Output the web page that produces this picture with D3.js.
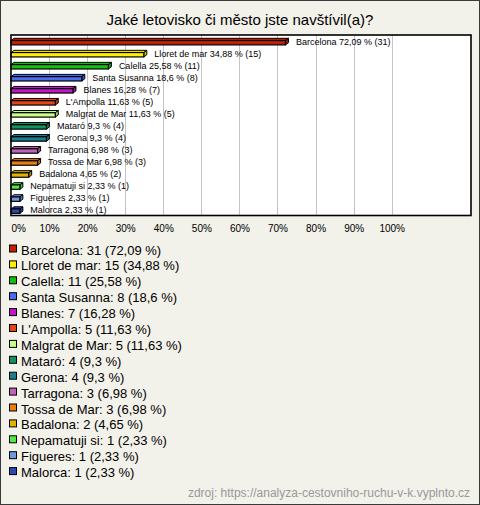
<!DOCTYPE html>
<html><head><meta charset="utf-8">
<script src="https://cdn.jsdelivr.net/npm/d3@7"></script>
<style>html,body{margin:0;padding:0;background:#fff;}svg{display:block;}</style>
</head><body>
<script>
const title = "Jaké letovisko či město jste navštívil(a)?";
const categories = ["Barcelona","Lloret de mar","Calella","Santa Susanna","Blanes","L'Ampolla","Malgrat de Mar","Mataró","Gerona","Tarragona","Tossa de Mar","Badalona","Nepamatuji si","Figueres","Malorca"];
const counts = [31,15,11,8,7,5,5,4,4,3,3,2,1,1,1];
const percents = [72.09,34.88,25.58,18.6,16.28,11.63,11.63,9.3,9.3,6.98,6.98,4.65,2.33,2.33,2.33];
const colors = ["#c41e04","#ffee00","#12c012","#4a6cf2","#c414cc","#e84412","#c8ff82","#12925e","#1a7e92","#c062ba","#e87e12","#e2b202","#54e844","#7098e0","#2a4ab2"];
const tickValues = [0,10,20,30,40,50,60,70,80,90,100];
const source = "zdroj: https://analyza-cestovniho-ruchu-v-k.vyplnto.cz";

const W = 480, H = 505;
const fmt = v => String(v).replace('.', ',');
const svg = d3.select("body").append("svg").attr("width", W).attr("height", H);
const font = "'Liberation Sans', Arial, sans-serif";

svg.append("rect").attr("x",0.5).attr("y",0.5).attr("width",W-1).attr("height",H-1)
  .attr("fill","#f2f1ea").attr("stroke","#3a3a3a");

svg.append("text").attr("x",240).attr("y",25).attr("text-anchor","middle")
  .attr("font-family",font).attr("font-size",15).attr("fill","#000").text(title);

const plot = {l:11, r:471, t:35, b:215.5};
const x = d3.scaleLinear().domain([0,100]).range([11, 391.7]);
const y = d3.scaleBand().domain(categories).range([plot.t, plot.b]);

svg.append("rect").attr("x",plot.l).attr("y",plot.t).attr("width",plot.r-plot.l).attr("height",plot.b-plot.t)
  .attr("fill","#fff");

svg.append("g").selectAll("line").data(tickValues.filter(d=>d>0)).join("line")
  .attr("x1",d=>Math.round(x(d))+0.5).attr("x2",d=>Math.round(x(d))+0.5)
  .attr("y1",plot.t).attr("y2",plot.b).attr("stroke","#c4c4c4").attr("stroke-width",1);

const dx = 3, dy = 2.2, fh = 4.4, fo = 5.5;
const bars = svg.append("g").selectAll("g").data(categories).join("g");
bars.each(function(c, i){
  const g = d3.select(this);
  const y0 = y(c) + fo, x0 = x(0), x1 = x(percents[i]);
  // top face
  g.append("path").attr("d", `M${x0},${y0} L${x0+dx},${y0-dy} L${x1+dx},${y0-dy} L${x1},${y0} Z`)
    .attr("fill", colors[i]).attr("stroke","#000").attr("stroke-width",1).attr("stroke-linejoin","round");
  // side face
  g.append("path").attr("d", `M${x1},${y0} L${x1+dx},${y0-dy} L${x1+dx},${y0-dy+fh} L${x1},${y0+fh} Z`)
    .attr("fill", d3.color(colors[i]).darker(0.6)).attr("stroke","#000").attr("stroke-width",1).attr("stroke-linejoin","round");
  // front face
  g.append("rect").attr("x",x0).attr("y",y0).attr("width",x1-x0).attr("height",fh)
    .attr("fill", colors[i]).attr("stroke","#000").attr("stroke-width",1.2);
  g.append("text").attr("x", x1+10.5).attr("y", y(c)+y.bandwidth()/2+3.5)
    .attr("font-family",font).attr("font-size",9).attr("fill","#000")
    .text(`${c} ${fmt(percents[i])} % (${counts[i]})`);
});

svg.append("rect").attr("x",plot.l).attr("y",plot.t).attr("width",plot.r-plot.l).attr("height",plot.b-plot.t)
  .attr("fill","none").attr("stroke","#000").attr("stroke-width",1.6);

const axis = d3.axisBottom(x).tickValues(tickValues).tickSize(0).tickPadding(0).tickFormat(d=>d+"%");
const ag = svg.append("g").attr("transform",`translate(0,${plot.b})`).call(axis);
ag.select(".domain").remove();
ag.selectAll("text").attr("font-family",font).attr("font-size",10).attr("fill","#000")
  .attr("dy",null).attr("y",16.5)
  .attr("text-anchor",(d)=> d===0 ? "start" : "middle");

const step = 15.9;
const lg = svg.append("g").selectAll("g").data(categories).join("g")
  .attr("transform",(d,i)=>`translate(0,${254.5 + i*step})`);
lg.append("rect").attr("x",9.5).attr("y",-9.5).attr("width",7).attr("height",7)
  .attr("fill",(d,i)=>colors[i]).attr("stroke","#000").attr("stroke-width",1);
lg.append("text").attr("x",21).attr("y",0).attr("font-family",font).attr("font-size",13).attr("fill","#000")
  .text((d,i)=>`${d}: ${counts[i]} (${fmt(percents[i])} %)`);

svg.append("text").attr("x",470).attr("y",497).attr("text-anchor","end")
  .attr("font-family",font).attr("font-size",12).attr("fill","#999").text(source);
</script>
</body></html>
